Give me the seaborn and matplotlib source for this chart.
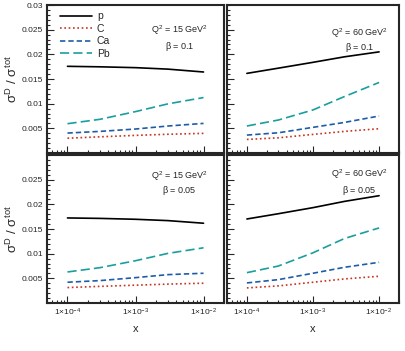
import pandas as pd
import matplotlib
matplotlib.use('Agg')
import matplotlib.pyplot as plt
import matplotlib.ticker as mticker
import seaborn as sns

# x grid and curves (ratio sigma^D / sigma^tot)
x_vals = [1e-4, 3e-4, 1e-3, 3e-3, 1e-2]
nuclei = ['p', 'C', 'Ca', 'Pb']

# Q2 = 15, beta = 0.1
tl_p = [0.01757, 0.01747, 0.0173, 0.0170, 0.01642]
tl_C = [0.0030, 0.00328, 0.00357, 0.00380, 0.00398]
tl_Ca = [0.00404, 0.00438, 0.00486, 0.00547, 0.0060]
tl_Pb = [0.00594, 0.00683, 0.00839, 0.00996, 0.01124]

# Q2 = 60, beta = 0.1
tr_p = [0.01614, 0.0172, 0.01838, 0.0195, 0.0205]
tr_C = [0.00275, 0.00308, 0.00377, 0.00438, 0.00492]
tr_Ca = [0.00363, 0.0041, 0.0052, 0.0062, 0.0075]
tr_Pb = [0.00547, 0.00669, 0.00873, 0.01145, 0.0143]

# Q2 = 15, beta = 0.05
bl_p = [0.01724, 0.01715, 0.01697, 0.0167, 0.01617]
bl_C = [0.00313, 0.00337, 0.00361, 0.00383, 0.00401]
bl_Ca = [0.00421, 0.00454, 0.00514, 0.00575, 0.00603]
bl_Pb = [0.00629, 0.00716, 0.00857, 0.01006, 0.01119]

# Q2 = 60, beta = 0.05
br_p = [0.01703, 0.0181, 0.01933, 0.0206, 0.02175]
br_C = [0.00306, 0.00347, 0.00421, 0.00488, 0.00542]
br_Ca = [0.00407, 0.00474, 0.00603, 0.00724, 0.00825]
br_Pb = [0.00615, 0.0075, 0.01018, 0.01308, 0.01522]

panels = {
    'tl': ([tl_p, tl_C, tl_Ca, tl_Pb], '15', '0.1'),
    'tr': ([tr_p, tr_C, tr_Ca, tr_Pb], '60', '0.1'),
    'bl': ([bl_p, bl_C, bl_Ca, bl_Pb], '15', '0.05'),
    'br': ([br_p, br_C, br_Ca, br_Pb], '60', '0.05'),
}

rows = []
for key, (curves, q2, beta) in panels.items():
    for name, ys in zip(nuclei, curves):
        for xv, yv in zip(x_vals, ys):
            rows.append({'panel': key, 'nucleus': name, 'x': xv, 'ratio': yv})
df = pd.DataFrame(rows)

palette = {'p': 'black', 'C': '#c8321e', 'Ca': '#1f5ca8', 'Pb': '#1a9e9e'}
dashes = {'p': '', 'C': (1, 1.6), 'Ca': (3.2, 1.8), 'Pb': (5.5, 2.5)}

sns.set_style('ticks')
plt.rcParams['font.family'] = ['Liberation Sans', 'DejaVu Sans']
plt.rcParams['mathtext.fontset'] = 'custom'
plt.rcParams['mathtext.rm'] = 'Liberation Sans'
plt.rcParams['mathtext.it'] = 'Liberation Sans'

W, H = 405, 351
fig = plt.figure(figsize=(W / 100, H / 100), dpi=100)

# pixel boxes: left, top, right, bottom
boxes = {
    'tl': (47, 5, 224, 153),
    'tr': (227, 5, 399, 153),
    'bl': (47, 155, 224, 303),
    'br': (227, 155, 399, 303),
}
text_pos = {
    'tl': (0.75, 0.83, 0.72),
    'tr': (0.77, 0.81, 0.71),
    'bl': (0.75, 0.86, 0.76),
    'br': (0.77, 0.87, 0.76),
}

for key, (l, t, r, b) in boxes.items():
    ax = fig.add_axes([l / W, 1 - b / H, (r - l) / W, (b - t) / H])
    sub = df[df['panel'] == key]
    sns.lineplot(data=sub, x='x', y='ratio', hue='nucleus', style='nucleus',
                 palette=palette, dashes=dashes, hue_order=nuclei,
                 style_order=nuclei, linewidth=1.2, ax=ax,
                 legend=(key == 'tl'))
    ax.set_xscale('log')
    ax.set_xlim(5e-5, 2e-2)
    ax.set_ylim(0, 0.03)
    ax.set_xticks([1e-4, 1e-3, 1e-2])
    ax.xaxis.set_minor_locator(mticker.LogLocator(base=10, subs=range(2, 10)))
    ax.xaxis.set_minor_formatter(mticker.NullFormatter())
    ax.yaxis.set_minor_locator(mticker.MultipleLocator(0.001))
    ax.tick_params(which='both', direction='in', top=False, right=False,
                   labelsize=6, width=0.8, pad=3)
    ax.tick_params(which='major', length=5)
    ax.tick_params(which='minor', length=2.5)
    for sp in ax.spines.values():
        sp.set_linewidth(1.5)

    if key in ('tl', 'bl'):
        yt = [0.005, 0.01, 0.015, 0.02, 0.025, 0.03] if key == 'tl' else \
             [0.005, 0.01, 0.015, 0.02, 0.025]
        ax.set_yticks(yt)
        ax.set_yticklabels(['%g' % v for v in yt])
        ax.set_ylabel(r'$\sigma^D$ / $\sigma^{tot}$', fontsize=9.5)
        ax.yaxis.set_label_coords(-0.15, 0.5)
    else:
        ax.set_yticks([0.005, 0.01, 0.015, 0.02, 0.025])
        ax.set_yticklabels([])
        ax.set_ylabel('')

    if key in ('bl', 'br'):
        ax.set_xticklabels([r'1$\times$10$^{-4}$', r'1$\times$10$^{-3}$',
                            r'1$\times$10$^{-2}$'])
        ax.set_xlabel('x', fontsize=8)
        ax.xaxis.set_label_coords(0.5, -0.14)
    else:
        ax.set_xticklabels([])
        ax.set_xlabel('')

    _, q2, beta = panels[key]
    tx, ty1, ty2 = text_pos[key]
    ax.text(tx, ty1, r'Q$^2$ = %s GeV$^2$' % q2, transform=ax.transAxes,
            ha='center', va='center', fontsize=6.5)
    ax.text(tx, ty2, r'$\beta$ = %s' % beta, transform=ax.transAxes,
            ha='center', va='center', fontsize=6.5)

    if key == 'tl':
        ax.legend(loc='upper left', frameon=False, fontsize=7.5,
                  handlelength=3.0, labelspacing=0.25,
                  bbox_to_anchor=(0.04, 1.0), borderaxespad=0.2,
                  handletextpad=0.5, title=None)

fig.savefig('out.png', dpi=100)
